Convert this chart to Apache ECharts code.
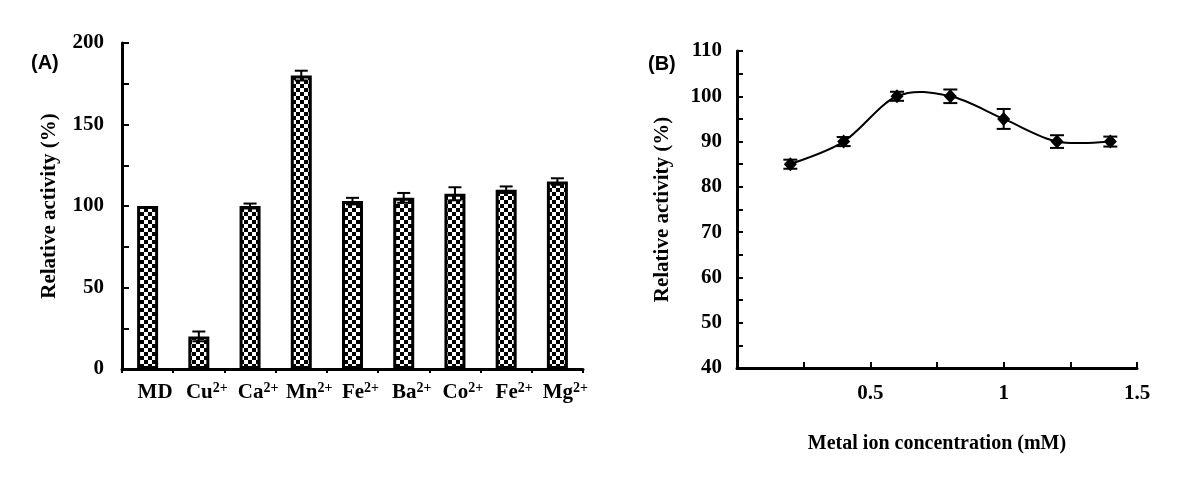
<!DOCTYPE html>
<html>
<head>
<meta charset="utf-8">
<script src="https://cdn.jsdelivr.net/npm/echarts@6/dist/echarts.min.js"></script>
<style>
  html, body { margin: 0; padding: 0; background: #fff; }
  #chart { width: 1200px; height: 486px; }
</style>
</head>
<body>
<div id="chart"></div>
<script>
// panel A: metal ions
const ionNames = ['MD', 'Cu', 'Ca', 'Mn', 'Fe', 'Ba', 'Co', 'Fe', 'Mg']
const ionCharges = ['', '2+', '2+', '2+', '2+', '2+', '2+', '2+', '2+']
const ionActivity = [100, 20, 100, 180, 103, 105, 107.5, 110, 115]
const ionError = [0, 3, 1.5, 3, 2, 3, 4, 2, 2]

// panel B: Mn2+ concentration
const concMM = [0.2, 0.4, 0.6, 0.8, 1.0, 1.2, 1.4]
const concActivity = [85, 90, 100, 100, 95, 90, 90]
const concError = [1, 1, 1, 1.5, 2.2, 1.4, 1.1]

const SERIF = '"Liberation Serif", "Times New Roman", serif'
const SANS = '"Liberation Sans", Arial, sans-serif'

// checkerboard fill for the bars
const makeChecker = () => {
  const c = document.createElement('canvas')
  c.width = 8
  c.height = 8
  const ctx = c.getContext('2d')
  ctx.fillStyle = '#fff'
  ctx.fillRect(0, 0, 8, 8)
  ctx.fillStyle = '#000'
  ctx.fillRect(0, 0, 4, 4)
  ctx.fillRect(4, 4, 4, 4)
  return c
}

const errBar = (capHalf) => (params, api) => {
  const x = api.value(0)
  const hi = api.coord([x, api.value(2)])
  const lo = api.coord([x, api.value(1)])
  const st = { stroke: '#000', lineWidth: 2 }
  return {
    type: 'group',
    children: [
      { type: 'line', shape: { x1: hi[0], y1: hi[1], x2: lo[0], y2: lo[1] }, style: st },
      { type: 'line', shape: { x1: hi[0] - capHalf, y1: hi[1], x2: hi[0] + capHalf, y2: hi[1] }, style: st },
      { type: 'line', shape: { x1: lo[0] - capHalf, y1: lo[1], x2: lo[0] + capHalf, y2: lo[1] }, style: st }
    ]
  }
}

// spreadsheet-style smoothed segment (catmull-rom -> bezier) from point i to i+1
const smoothSeg = (params, api) => {
  const i = params.dataIndex
  if (i >= concMM.length - 1) return null
  const p = k => api.coord([concMM[Math.max(0, Math.min(concMM.length - 1, k))], concActivity[Math.max(0, Math.min(concMM.length - 1, k))]])
  const p0 = p(i - 1), p1 = p(i), p2 = p(i + 1), p3 = p(i + 2)
  const t = 1 / 6
  return {
    type: 'bezierCurve',
    shape: {
      x1: p1[0], y1: p1[1], x2: p2[0], y2: p2[1],
      cpx1: p1[0] + (p2[0] - p0[0]) * t, cpy1: p1[1] + (p2[1] - p0[1]) * t,
      cpx2: p2[0] - (p3[0] - p1[0]) * t, cpy2: p2[1] - (p3[1] - p1[1]) * t
    },
    style: { stroke: '#000', lineWidth: 2, fill: null }
  }
}

const axisText = { color: '#000', fontFamily: SERIF, fontWeight: 'bold', fontSize: 21 }

const chart = echarts.init(document.getElementById('chart'))

chart.setOption({
  backgroundColor: '#fff',
  animation: false,
  graphic: [
    { type: 'text', left: 31, top: 53, style: { text: '(A)', font: 'bold 20px ' + SANS, fill: '#000' } },
    { type: 'text', left: 648, top: 54, style: { text: '(B)', font: 'bold 20px ' + SANS, fill: '#000' } }
  ],
  grid: [
    { left: 122, top: 43, width: 461, height: 326 },
    { left: 737, top: 51, width: 400, height: 317 }
  ],
  xAxis: [
    {
      gridIndex: 0,
      type: 'category',
      data: ionNames,
      axisLine: { lineStyle: { color: '#000', width: 3 } },
      axisTick: { show: true, inside: false, length: 4, lineStyle: { color: '#000', width: 2 } },
      axisLabel: {
        interval: 0,
        margin: 12,
        formatter: (v, i) => ionCharges[i]
          ? '{pad|}{b|' + ionNames[i] + '}{s|' + ionCharges[i] + '}'
          : '{padmd|}{b|' + ionNames[i] + '}',
        rich: {
          b: { ...axisText, lineHeight: 24 },
          s: { ...axisText, fontSize: 14, lineHeight: 24, verticalAlign: 'top', padding: [0, 0, 12, 0] },
          pad: { width: 16 },
          padmd: { width: 15 }
        }
      },
      splitLine: { show: false }
    },
    {
      gridIndex: 1,
      type: 'value',
      min: 0,
      max: 1.5,
      interval: 0.25,
      name: 'Metal ion concentration (mM)',
      nameLocation: 'middle',
      nameGap: 66,
      nameTextStyle: { ...axisText, fontSize: 20 },
      axisLine: { lineStyle: { color: '#000', width: 3 } },
      axisTick: { show: true, inside: true, length: 6, lineStyle: { color: '#000', width: 2 } },
      axisLabel: {
        ...axisText,
        margin: 15,
        formatter: v => (v > 0 && Math.abs(v * 2 - Math.round(v * 2)) < 1e-6) ? String(+v.toFixed(1)) : ''
      },
      splitLine: { show: false }
    }
  ],
  yAxis: [
    {
      gridIndex: 0,
      type: 'value',
      min: 0,
      max: 200,
      interval: 25,
      name: 'Relative activity (%)',
      nameLocation: 'middle',
      nameGap: 62,
      nameTextStyle: axisText,
      axisLine: { show: true, lineStyle: { color: '#000', width: 3 } },
      axisTick: { show: true, inside: true, length: 7, lineStyle: { color: '#000', width: 2 } },
      axisLabel: { ...axisText, margin: 18, formatter: v => (v % 50 === 0 ? String(v) : '') },
      splitLine: { show: false }
    },
    {
      gridIndex: 1,
      type: 'value',
      min: 40,
      max: 110,
      interval: 5,
      name: 'Relative activity (%)',
      nameLocation: 'middle',
      nameGap: 64,
      nameTextStyle: axisText,
      axisLine: { show: true, lineStyle: { color: '#000', width: 3 } },
      axisTick: { show: true, inside: true, length: 6, lineStyle: { color: '#000', width: 2 } },
      axisLabel: { ...axisText, margin: 15, formatter: v => (v % 10 === 0 ? String(v) : '') },
      splitLine: { show: false }
    }
  ],
  series: [
    {
      type: 'bar',
      xAxisIndex: 0,
      yAxisIndex: 0,
      barWidth: 21,
      data: ionActivity,
      itemStyle: {
        color: { image: makeChecker(), repeat: 'repeat' },
        borderColor: '#000',
        borderWidth: 3
      }
    },
    {
      type: 'custom',
      xAxisIndex: 0,
      yAxisIndex: 0,
      z: 5,
      renderItem: errBar(6.5),
      encode: { x: 0, y: [1, 2] },
      data: ionActivity.map((v, i) => [i, v - ionError[i], v + ionError[i]]).filter((d, i) => ionError[i] > 0)
    },
    {
      type: 'custom',
      xAxisIndex: 1,
      yAxisIndex: 1,
      z: 2,
      renderItem: smoothSeg,
      encode: { x: 0, y: 1 },
      data: concMM.map((x, i) => [x, concActivity[i]])
    },
    {
      type: 'scatter',
      xAxisIndex: 1,
      yAxisIndex: 1,
      symbol: 'diamond',
      symbolSize: [13, 14],
      data: concMM.map((x, i) => [x, concActivity[i]]),
      itemStyle: { color: '#000', opacity: 1 },
      z: 3
    },
    {
      type: 'custom',
      xAxisIndex: 1,
      yAxisIndex: 1,
      z: 4,
      renderItem: errBar(7),
      encode: { x: 0, y: [1, 2] },
      data: concMM.map((x, i) => [x, concActivity[i] - concError[i], concActivity[i] + concError[i]])
    }
  ]
})
</script>
</body>
</html>
